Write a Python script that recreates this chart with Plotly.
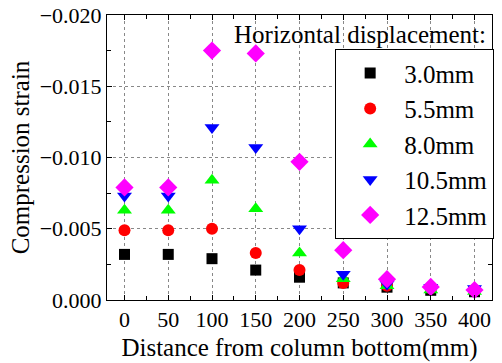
import plotly.graph_objects as go

distance = [0, 50, 100, 150, 200, 250, 300, 350, 400]

s_3_0 = [-0.0032, -0.0032, -0.0029, -0.0021, -0.0016, -0.0012, -0.0009, -0.00068, -0.00058]
s_5_5 = [-0.0049, -0.0049, -0.0050, -0.0033, -0.0021, -0.0012, -0.0010, -0.00082, -0.00066]
s_8_0 = [-0.0063, -0.0063, -0.0084, -0.0064, -0.0033, -0.0015, -0.0010, -0.0007, -0.0006]
s_10_5 = [-0.0073, -0.0073, -0.0121, -0.0107, -0.0050, -0.0018, -0.0011, -0.0009, -0.0008]
s_12_5 = [-0.0079, -0.0079, -0.0175, -0.0173, -0.0097, -0.0035, -0.00146, -0.00092, -0.0007]

series_names = ["3.0mm", "5.5mm", "8.0mm", "10.5mm", "12.5mm"]
series_values = [s_3_0, s_5_5, s_8_0, s_10_5, s_12_5]
colors = ["#000000", "#ff0000", "#00ff00", "#0000ff", "#ff00ff"]
symbols = ["square", "circle", "triangle-up", "triangle-down", "diamond"]
sizes = [11, 12, 13, 13, 14]

y_tickvals = [0.0, -0.005, -0.010, -0.015, -0.020]
y_ticktext = ["0.000", "\u22120.005", "\u22120.010", "\u22120.015", "\u22120.020"]
x_tickvals = [0, 50, 100, 150, 200, 250, 300, 350, 400]

FONT = "Liberation Serif"

fig = go.Figure()
for name, vals, c, sym, sz in zip(series_names, series_values, colors, symbols, sizes):
    fig.add_trace(go.Scatter(
        x=distance, y=vals, mode="markers", name=name,
        marker=dict(color=c, symbol=sym, size=sz, line=dict(width=0)),
    ))

axis_common = dict(
    showline=True, linecolor="black", linewidth=1, mirror="ticks",
    ticks="inside", ticklen=5, tickcolor="black",
    showgrid=True, gridcolor="#888888", griddash="dot", gridwidth=1,
    zeroline=False, automargin=False,
    tickfont=dict(family=FONT, size=22, color="black"),
)

fig.update_xaxes(
    range=[-20, 420], tickvals=x_tickvals,
    minor=dict(ticks="inside", ticklen=4, dtick=25, tick0=0, tickcolor="black", showgrid=False),
    title=dict(text="Distance from column bottom(mm)", font=dict(family=FONT, size=25, color="black"), standoff=7),
    **axis_common,
)
fig.update_yaxes(
    range=[0, -0.020], tickvals=y_tickvals, ticktext=y_ticktext,
    minor=dict(ticks="inside", ticklen=4, dtick=0.0025, tick0=0, tickcolor="black", showgrid=False),
    title=dict(text="Compression strain", font=dict(family=FONT, size=25, color="black"), standoff=2),
    **axis_common,
)

fig.add_annotation(
    text="Horizontal displacement:", xref="paper", yref="paper",
    x=0.99, y=0.985, xanchor="right", yanchor="top", showarrow=False,
    font=dict(family=FONT, size=25, color="black"),
)

fig.update_layout(
    width=502, height=363,
    margin=dict(l=107, r=9, t=15, b=63),
    plot_bgcolor="white", paper_bgcolor="white",
    font=dict(family=FONT, color="black"),
    legend=dict(
        x=1.003, y=0.88, xanchor="right", yanchor="top",
        bordercolor="black", borderwidth=1, bgcolor="white",
        font=dict(family=FONT, size=25, color="black"),
        itemwidth=58, tracegroupgap=0,
    ),
)

fig.write_html("out.html", config={"displayModeBar": False},
               post_script="document.body.style.margin='0';")
